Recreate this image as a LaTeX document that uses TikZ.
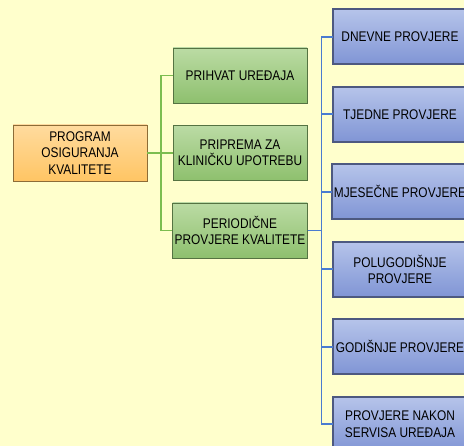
\documentclass[tikz,border=0pt]{standalone}
\usepackage{fontspec}
\setmainfont{Liberation Sans}[FakeStretch=0.85]
\definecolor{pozadina}{HTML}{FFFFCC}
\definecolor{narTop}{HTML}{FFDB9E}
\definecolor{narBot}{HTML}{FFC564}
\definecolor{zelTop}{HTML}{BBDBA4}
\definecolor{zelBot}{HTML}{8EC06E}
\definecolor{plaTop}{HTML}{B6C4EA}
\definecolor{plaBot}{HTML}{8095D5}
\definecolor{zelLinija}{HTML}{7CBD4F}
\definecolor{plaLinija}{HTML}{4A7BD0}

\begin{document}
\begin{tikzpicture}[x=1pt, y=1pt, grow'=right,
                    box/.style={
                        align=center, inner sep=2pt,
                        minimum width=134pt, minimum height=55pt,
                        font=\fontsize{14}{16.3}\selectfont
                    },
                    rootbox/.style={box, minimum height=56pt,
                        top color=narTop, bottom color=narBot,
                        draw=narBot!55!black},
                    greenbox/.style={box,
                        top color=zelTop, bottom color=zelBot,
                        draw=zelBot!60!black},
                    bluebox/.style={box,
                        top color=plaTop, bottom color=plaBot,
                        draw=plaBot!60!black},
                    zelveza/.style={draw=zelLinija, line width=1.6pt},
                    plaveza/.style={draw=plaLinija, line width=1.6pt},
                    edge from parent path={(\tikzparentnode.east)
                        -- ++(14pt,0) |- (\tikzchildnode.west)},
                    level 1/.style={
                        level distance=160pt, sibling distance=77.5pt,
                        every child node/.style={greenbox},
                        edge from parent/.style={zelveza}
                    },
                    level 2/.style={
                        level distance=160pt, sibling distance=77.5pt,
                        every child node/.style={bluebox},
                        edge from parent/.style={draw=none}
                    }]

    \useasboundingbox (0,0) rectangle (464,-446);
    \fill[pozadina] (0,0) rectangle (464,-446);
    \clip (0,0) rectangle (464,-446);

    \node[rootbox] (prog) at (80,-153) {PROGRAM\\OSIGURANJA\\KVALITETE}
        child { node (prihvat) {PRIHVAT UREĐAJA} }
        child { node (priprema) {PRIPREMA ZA\\KLINIČKU UPOTREBU} }
        child { node (period) {PERIODIČNE\\PROVJERE KVALITETE}
            child { node (dnevne) {DNEVNE PROVJERE} }
            child { node (tjedne) {TJEDNE PROVJERE} }
            child { node (mjesecne) {MJESEČNE PROVJERE} }
            child { node (polugod) {POLUGODIŠNJE\\PROVJERE} }
            child { node (godisnje) {GODIŠNJE PROVJERE} }
            child { node (servis) {PROVJERE NAKON\\SERVISA UREĐAJA} }
        };

    % plave veze do provjera
    \foreach \p in {dnevne,tjedne,mjesecne,polugod,godisnje,servis}
        \draw[plaveza] (period.east) -- ++(14pt,0) |- (\p.west);

\end{tikzpicture}
\end{document}
